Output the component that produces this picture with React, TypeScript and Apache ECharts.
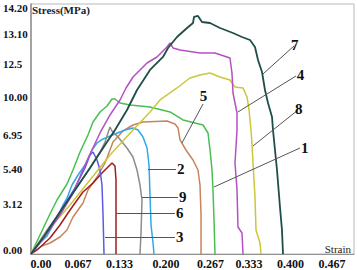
import React, { useEffect, useRef } from "react";
import * as echarts from "echarts";

// Axis tick label texts and the positions where the original chart prints them
const xTickPos = [0.0155, 0.0728, 0.137, 0.209, 0.2779, 0.3375, 0.4017, 0.4659];
const xTickLabels = ["0.00", "0.067", "0.133", "0.200", "0.267", "0.333", "0.400", "0.467"];
const yTickPos = [0.232, 2.9, 4.93, 6.903, 9.107, 11.021, 12.761, 14.269];
const yTickLabels = ["0.00", "3.12", "5.40", "6.95", "10.00", "12.5", "13.10", "14.20"];

// Stress-strain curves [strain, stress]
const specimen1 = [[0, 0], [0.0139, 1.102], [0.0294, 2.32], [0.0402, 3.132], [0.0557, 4.06], [0.065, 4.872], [0.0759, 5.916], [0.0882, 6.903], [0.096, 7.657], [0.1068, 8.237], [0.1176, 8.585], [0.1254, 8.991], [0.13, 8.991], [0.1378, 8.759], [0.1533, 8.643], [0.1842, 8.527], [0.2152, 8.237], [0.2353, 7.773], [0.2663, 7.483], [0.274, 7.019], [0.2771, 6.032], [0.2802, 4.872], [0.2817, 3.712], [0.2833, 1.972], [0.2848, 0]];
const specimen2 = [[0, 0], [0.0139, 0.638], [0.0248, 1.044], [0.0402, 2.088], [0.0495, 2.842], [0.0557, 3.248], [0.0635, 4.002], [0.0728, 4.582], [0.0836, 5.162], [0.0944, 6.032], [0.1022, 6.439], [0.1115, 6.671], [0.13, 6.961], [0.1455, 7.193], [0.1579, 7.309], [0.1656, 7.193], [0.1734, 6.787], [0.1796, 6.148], [0.1827, 5.162], [0.1842, 3.422], [0.1858, 1.682], [0.1889, 0.638], [0.1904, 0]];
const specimen3 = [[0, 0], [0.0217, 1.102], [0.0449, 2.436], [0.0681, 3.828], [0.0836, 4.988], [0.0913, 5.742], [0.096, 5.916], [0.1022, 5.452], [0.1068, 4.872], [0.1099, 4.002], [0.1115, 2.262], [0.113, 0]];
const specimen4 = [[0, 0], [0.0217, 1.044], [0.0449, 2.262], [0.0635, 3.422], [0.0789, 4.756], [0.0944, 6.032], [0.1068, 7.019], [0.1223, 8.063], [0.1378, 8.933], [0.1471, 9.629], [0.1579, 10.267], [0.1796, 11.079], [0.195, 11.427], [0.2105, 12.007], [0.2152, 12.239], [0.2198, 11.949], [0.2307, 11.833], [0.2616, 11.659], [0.2848, 11.659], [0.308, 11.369], [0.3111, 10.499], [0.3127, 9.339], [0.3189, 8.179], [0.3189, 7.193], [0.3158, 5.278], [0.3189, 3.712], [0.3204, 1.566], [0.3266, 1.218], [0.3282, 0]];
const specimen5 = [[0, 0], [0.017, 0.464], [0.0294, 0.638], [0.0449, 0.986], [0.0557, 1.392], [0.065, 2.146], [0.0805, 2.958], [0.0882, 3.712], [0.1022, 4.466], [0.1146, 5.278], [0.1269, 6.497], [0.1424, 7.135], [0.1579, 7.483], [0.1734, 7.657], [0.2105, 7.715], [0.2229, 7.541], [0.2276, 7.309], [0.2307, 6.613], [0.2399, 6.032], [0.2508, 5.452], [0.2585, 4.872], [0.2616, 4.002], [0.2632, 2.262], [0.2632, 0]];
const specimen6 = [[0, 0], [0.0093, 0.232], [0.0294, 0.928], [0.0449, 1.682], [0.0573, 2.378], [0.0681, 2.958], [0.0805, 3.596], [0.096, 4.118], [0.1099, 4.698], [0.1192, 5.046], [0.1254, 5.278], [0.13, 5.104], [0.1316, 4.292], [0.1316, 2.552], [0.1316, 0]];
const specimen7 = [[0, 0], [0.0217, 1.102], [0.0449, 2.436], [0.0681, 3.712], [0.0913, 4.988], [0.1146, 6.323], [0.13, 7.193], [0.1486, 8.353], [0.1641, 9.513], [0.1842, 10.673], [0.2043, 11.427], [0.2121, 11.949], [0.226, 12.587], [0.2415, 13.109], [0.2508, 13.399], [0.2523, 13.747], [0.2585, 13.805], [0.2647, 13.457], [0.2771, 13.399], [0.2926, 13.109], [0.3127, 12.819], [0.3266, 12.587], [0.339, 12.413], [0.3467, 12.007], [0.3514, 11.253], [0.3576, 10.557], [0.3622, 9.513], [0.3669, 8.759], [0.3731, 7.947], [0.3746, 7.193], [0.3777, 6.032], [0.3808, 4.872], [0.3854, 2.726], [0.3885, 1.392], [0.3901, 0]];
const specimen8 = [[0, 0], [0.0294, 1.508], [0.0604, 2.842], [0.0913, 4.292], [0.1223, 5.742], [0.1579, 7.193], [0.1842, 8.237], [0.1997, 8.933], [0.226, 9.629], [0.2461, 10.209], [0.2616, 10.383], [0.2771, 10.499], [0.2926, 10.267], [0.308, 10.093], [0.3158, 9.687], [0.3282, 9.629], [0.3344, 9.107], [0.3375, 8.353], [0.3406, 7.193], [0.3421, 6.323], [0.3437, 5.278], [0.3467, 3.306], [0.3483, 1.392], [0.3545, 0.638], [0.356, 0]];
const specimen9 = [[0, 0], [0.0217, 1.218], [0.0449, 2.436], [0.0681, 3.712], [0.0913, 4.988], [0.1068, 5.916], [0.1146, 6.497], [0.1192, 7.019], [0.1223, 7.367], [0.1254, 7.135], [0.1347, 6.787], [0.1486, 6.148], [0.1579, 5.626], [0.1641, 4.872], [0.1687, 4.002], [0.1718, 3.132], [0.1703, 1.218], [0.1687, 0]];

// Callout leader lines: [point on curve, label end]
const callout1 = [[0.2833, 3.886], [0.4164, 6.148]];
const callout2 = [[0.1811, 4.93], [0.2245, 4.93]];
const callout3 = [[0.1146, 0.986], [0.2229, 0.986]];
const callout4 = [[0.3204, 8.237], [0.4102, 10.325]];
const callout5 = [[0.2337, 6.439], [0.2663, 8.701]];
const callout6 = [[0.1316, 2.378], [0.2229, 2.378]];
const callout7 = [[0.3591, 10.441], [0.4071, 12.065]];
const callout8 = [[0.3437, 6.265], [0.4133, 8.353]];
const callout9 = [[0.1718, 3.306], [0.2276, 3.306]];

const SERIF = "'Liberation Serif', 'Times New Roman', serif";

function lookup(pos: number[], labels: string[], v: number) {
  const i = pos.findIndex((p) => Math.abs(p - v) < 1e-6);
  return i >= 0 ? labels[i] : "";
}

function curve(name: string, data: number[][], color: string, callout: number[][], width = 1.5) {
  return {
    type: "line",
    name,
    data,
    showSymbol: false,
    symbol: "none",
    lineStyle: { color, width },
    itemStyle: { color },
    silent: true,
    markLine: {
      silent: true,
      symbol: ["none", "none"],
      lineStyle: { color: "#555", width: 1, type: "solid" },
      label: {
        show: true,
        position: "end",
        distance: 1,
        formatter: () => name,
        fontFamily: SERIF,
        fontWeight: "bold",
        fontSize: 15,
        color: "#111",
      },
      data: [[{ coord: callout[0] }, { coord: callout[1] }]],
    },
  };
}

export default function App() {
  const ref = useRef<HTMLDivElement>(null);
  useEffect(() => {
    if (!ref.current) return;
    const chart = echarts.init(ref.current, null, { renderer: "svg" });
    chart.setOption({
      animation: false,
      backgroundColor: "#ffffff",
      textStyle: { fontFamily: SERIF },
      title: {
        text: "{a|Stress}{b|(MPa)}",
        left: 32,
        top: 4,
        padding: 0,
        textStyle: {
          fontFamily: SERIF,
          fontSize: 11,
          lineHeight: 12,
          rich: {
            a: { fontFamily: SERIF, fontSize: 11, lineHeight: 12, color: "#222" },
            b: { fontFamily: SERIF, fontSize: 11, lineHeight: 12, fontWeight: "bold", color: "#222" },
          },
        },
      },
      grid: {
        left: 31,
        top: 4,
        right: 3,
        bottom: 16,
        show: true,
        borderColor: "#b8b8b8",
        borderWidth: 1,
        containLabel: false,
        outerBoundsMode: "none",
      },
      xAxis: {
        type: "value",
        min: 0,
        max: 0.5,
        name: "Strain",
        nameLocation: "end",
        nameGap: -3,
        nameTextStyle: { fontFamily: SERIF, fontSize: 11, color: "#222", align: "right", verticalAlign: "bottom" },
        axisLine: { show: true, lineStyle: { color: "#909090", width: 1.2 } },
        axisTick: { show: false },
        splitLine: { show: false },
        axisLabel: {
          customValues: xTickPos,
          formatter: (v: number) => lookup(xTickPos, xTickLabels, v),
          fontFamily: SERIF,
          fontWeight: "bold",
          fontSize: 12,
          color: "#111",
          margin: 4,
          hideOverlap: false,
        },
      },
      yAxis: {
        type: "value",
        min: 0,
        max: 14.5,
        axisLine: { show: true, lineStyle: { color: "#909090", width: 1.5 } },
        axisTick: { show: false },
        splitLine: { show: false },
        axisLabel: {
          customValues: yTickPos,
          formatter: (v: number) => lookup(yTickPos, yTickLabels, v),
          fontFamily: SERIF,
          fontWeight: "bold",
          fontSize: 11,
          color: "#111",
          align: "left",
          margin: 28,
          hideOverlap: false,
        },
      },
      series: [
        curve("1", specimen1, "#48c050", callout1),
        curve("5", specimen5, "#c8845c", callout5),
        curve("2", specimen2, "#30a8e8", callout2),
        curve("9", specimen9, "#8c8c8c", callout9),
        curve("6", specimen6, "#a01c1c", callout6),
        curve("3", specimen3, "#5a5ae6", callout3),
        curve("8", specimen8, "#cbc63c", callout8),
        curve("4", specimen4, "#b450c4", callout4),
        curve("7", specimen7, "#1f4e48", callout7, 1.8),
      ],
    });
    return () => chart.dispose();
  }, []);
  return <div ref={ref} style={{ position: "fixed", left: 0, top: 0, width: 357, height: 270 }} />;
}
